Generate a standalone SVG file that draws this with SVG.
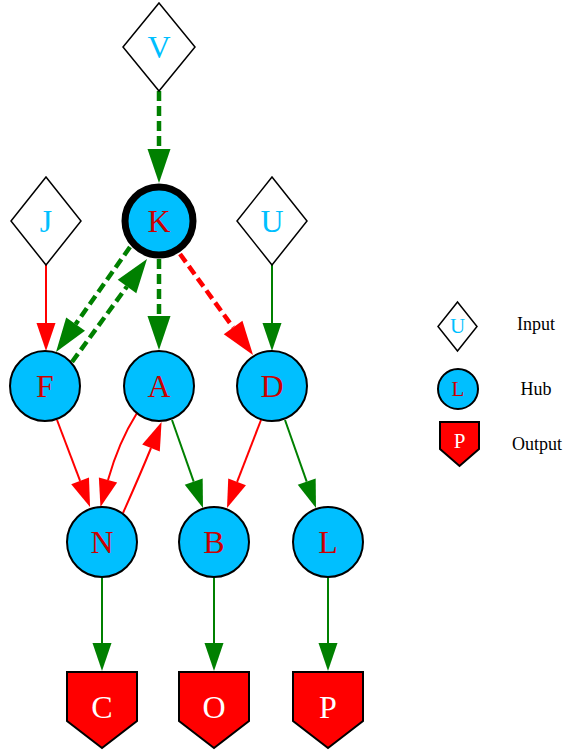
<svg xmlns="http://www.w3.org/2000/svg" width="565" height="754" viewBox="0 0 565 754">
<style>
.dia{fill:#fff;stroke:#000;stroke-width:1.5}
.hub{fill:#00bfff;stroke:#000;stroke-width:2}
.out{fill:#ff0000;stroke:#000;stroke-width:2}
.t{font-family:"Liberation Serif","Times New Roman",serif;font-size:32px;text-anchor:middle}
.ti{fill:#00bfff}
.th{fill:#cc0000}
.to{fill:#fff}
.lg{font-family:"Liberation Serif","Times New Roman",serif;font-size:18px;text-anchor:middle;fill:#000}
.ls{font-size:21px}
.e{fill:none}
.g{stroke:#008000}
.r{stroke:#ff0000}
.thin{stroke-width:2}
.thick{stroke-width:4.5;stroke-dasharray:10,5}
</style>
<defs>
<marker id="ag" markerUnits="userSpaceOnUse" orient="auto" refX="0" refY="0" markerWidth="40" markerHeight="30" overflow="visible"><path d="M0,-9.5L28,0L0,9.5z" fill="#008000"/></marker>
<marker id="ar" markerUnits="userSpaceOnUse" orient="auto" refX="0" refY="0" markerWidth="40" markerHeight="30" overflow="visible"><path d="M0,-9.5L28,0L0,9.5z" fill="#ff0000"/></marker>
<marker id="agk" markerUnits="userSpaceOnUse" orient="auto" refX="0" refY="0" markerWidth="40" markerHeight="30" overflow="visible"><path d="M0,-11.5L34,0L0,11.5z" fill="#008000"/></marker>
<marker id="ark" markerUnits="userSpaceOnUse" orient="auto" refX="0" refY="0" markerWidth="40" markerHeight="30" overflow="visible"><path d="M0,-11.5L34,0L0,11.5z" fill="#ff0000"/></marker>
</defs>
<g id="edges">
<path class="e g thick" d="M159,91L159,149" marker-end="url(#agk)"/>
<path class="e g thick" d="M130,247L75.6,324.2" marker-end="url(#agk)"/>
<path class="e g thick" d="M72,362L127,286.5" marker-end="url(#agk)"/>
<path class="e g thick" d="M159,259L159,316" marker-end="url(#agk)"/>
<path class="e r thick" d="M180,254L233.1,327.4" marker-end="url(#ark)"/>
<path class="e r thin" d="M46,265L46,323" marker-end="url(#ar)"/>
<path class="e g thin" d="M272,265L272,323" marker-end="url(#ag)"/>
<path class="e r thin" d="M57,420L80.1,480.8" marker-end="url(#ar)"/>
<path class="e r thin" d="M137,413C125,432 115,455 108,480" marker-end="url(#ar)"/>
<path class="e r thin" d="M123,513C131,495 140,475 151,448" marker-end="url(#ar)"/>
<path class="e g thin" d="M172,420L193.7,481.6" marker-end="url(#ag)"/>
<path class="e r thin" d="M261,420L237.1,481.9" marker-end="url(#ar)"/>
<path class="e g thin" d="M285,420L306.7,481.6" marker-end="url(#ag)"/>
<path class="e g thin" d="M102,577L102,643" marker-end="url(#ag)"/>
<path class="e g thin" d="M214,577L214,643" marker-end="url(#ag)"/>
<path class="e g thin" d="M328,577L328,643" marker-end="url(#ag)"/>
</g>
<g id="V"><polygon class="dia" points="159,3 195,47 159,91 123,47"/><text class="t ti" x="159" y="58">V</text></g>
<g id="J"><polygon class="dia" points="46,177 81,221 46,265 11,221"/><text class="t ti" x="46" y="232">J</text></g>
<g id="U"><polygon class="dia" points="272,177 307,221 272,265 237,221"/><text class="t ti" x="272" y="232">U</text></g>
<g id="K"><circle cx="159" cy="221" r="34" fill="#00bfff" stroke="#000" stroke-width="7"/><text class="t th" x="159" y="232">K</text></g>
<g id="F"><circle class="hub" cx="45" cy="386" r="35"/><text class="t th" x="45" y="397">F</text></g>
<g id="A"><circle class="hub" cx="159" cy="386" r="35"/><text class="t th" x="159" y="397">A</text></g>
<g id="D"><circle class="hub" cx="272" cy="386" r="35"/><text class="t th" x="272" y="397">D</text></g>
<g id="N"><circle class="hub" cx="102" cy="542" r="35"/><text class="t th" x="102" y="553">N</text></g>
<g id="B"><circle class="hub" cx="214" cy="542" r="35"/><text class="t th" x="214" y="553">B</text></g>
<g id="L"><circle class="hub" cx="328" cy="542" r="35"/><text class="t th" x="328" y="553">L</text></g>
<g id="C"><polygon class="out" points="67,672 137,672 137,721 102,748 67,721"/><text class="t to" x="102" y="718">C</text></g>
<g id="O"><polygon class="out" points="179,672 249,672 249,721 214,748 179,721"/><text class="t to" x="214" y="718">O</text></g>
<g id="P"><polygon class="out" points="293,672 363,672 363,721 328,748 293,721"/><text class="t to" x="328" y="718">P</text></g>
<g id="legend">
<polygon class="dia" points="457.5,302 477,326.5 457.5,351 438,326.5"/><text class="t ti ls" x="457.5" y="333">U</text>
<text class="lg" x="536" y="330">Input</text>
<circle class="hub" cx="458" cy="389" r="20" stroke-width="1.5"/><text class="t th ls" x="458" y="396">L</text>
<text class="lg" x="536" y="395">Hub</text>
<polygon class="out" points="440,422 479,422 479,449 459.5,466 440,449" stroke-width="1.5"/><text class="t to ls" x="459.5" y="448">P</text>
<text class="lg" x="537" y="450">Output</text>
</g>
</svg>
